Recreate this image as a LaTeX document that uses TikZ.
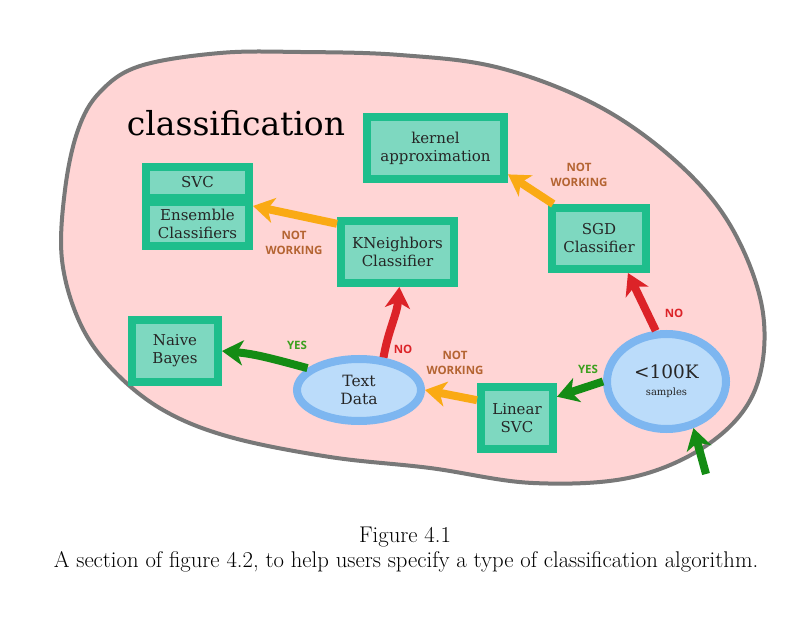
\documentclass[tikz,border=0pt]{standalone}
\usepackage{fontspec}
\usepackage{tikz}
\usetikzlibrary{shapes.geometric,arrows.meta,shadows}
\newfontfamily\boxfont{DejaVu Serif}
\newfontfamily\notefont{Open Sans}
\definecolor{blobfill}{RGB}{255,213,213}
\definecolor{blobline}{RGB}{120,120,120}
\definecolor{algoline}{RGB}{30,190,140}
\definecolor{algofill}{RGB}{126,216,192}
\definecolor{askline}{RGB}{125,182,240}
\definecolor{askfill}{RGB}{187,220,250}
\definecolor{yesgreen}{RGB}{20,140,20}
\definecolor{nored}{RGB}{220,35,40}
\definecolor{failorange}{RGB}{250,170,20}
\definecolor{notebrown}{RGB}{180,100,50}
\definecolor{notegreen}{RGB}{60,160,30}
\newcommand{\picunit}{1pt}
\newcommand{\makenote}[4]{
	\node[note, text=#2] (#1) at (#3) {#4};
}

\begin{document}
\begin{tikzpicture}[x=\picunit,y=\picunit,
	algo/.style={draw=algoline, fill=algofill, line width=8pt, inner sep=0pt,
		align=center, text=black!85, font=\boxfont\fontsize{15}{18}\selectfont,
		drop shadow={opacity=0.25, shadow xshift=1.5pt, shadow yshift=-1.5pt},
		path picture={\draw[algoline!50!black, opacity=0.18, line width=7pt]
			(path picture bounding box.south west) rectangle (path picture bounding box.north east);}},
	ask/.style={ellipse, draw=askline, fill=askfill, line width=8pt, inner sep=0pt,
		align=center, text=black!85, font=\boxfont\fontsize{15.5}{18}\selectfont,
		drop shadow={opacity=0.25, shadow xshift=1.5pt, shadow yshift=-1.5pt}},
	note/.style={align=center, inner sep=1pt, font=\notefont\bfseries\fontsize{11.5}{14.5}\selectfont},
	flow/.style={line width=8pt, -{Stealth[length=21pt,width=25pt,inset=6pt]}},
	caption/.style={inner sep=0pt, anchor=base, font=\rmfamily\fontsize{22.7}{27}\selectfont}]
	\useasboundingbox (0,0) rectangle (799,621);

	\draw[blobline, fill=blobfill, line width=4pt] plot[smooth cycle, tension=0.6] coordinates {
		(300,569) (400,566) (500,553) (600,514) (680,456) (733,391) (763,308)
		(755,231) (710,178) (633,144) (533,138) (430,153) (330,164) (230,184)
		(163,211) (113,251) (80,298) (62,361) (65,431) (78,491) (100,529)
		(140,555) (220,568)};

	\node[inner sep=0pt, font=\boxfont\fontsize{33}{40}\selectfont] (heading) at (236,498) {classification};

	\node[algo, minimum width=103pt, minimum height=44pt] (ens) at (197.5,397) {Ensemble\\Classifiers};
	\node[algo, minimum width=103pt, minimum height=31pt] (svc) at (197.5,438.5) {SVC};
	\node[algo, minimum width=137pt, minimum height=62pt] (kernel) at (435.5,473) {kernel\\approximation};
	\node[algo, minimum width=113pt, minimum height=62pt] (kn) at (397.5,369) {KNeighbors\\Classifier};
	\node[algo, minimum width=94pt, minimum height=61pt] (sgd) at (599,382.5) {SGD\\Classifier};
	\node[algo, minimum width=86pt, minimum height=62pt] (nb) at (175,270) {Naive\\Bayes};
	\node[algo, minimum width=72pt, minimum height=62pt] (lin) at (517,203) {Linear\\SVC};
	\node[ask, minimum width=124pt, minimum height=62pt] (text) at (359,231) {Text\\Data};
	\node[ask, minimum width=119pt, minimum height=95pt] (samples) at (666.5,239.5)
		{{\fontsize{18.5}{22}\selectfont <100K}\\[-1pt]{\fontsize{10}{12}\selectfont samples}};
	\coordinate (entry) at (706,147);

	\draw[flow, failorange] (kn.155) -- (ens.18);
	\draw[flow, failorange] (sgd.143) -- (kernel.340);
	\draw[flow, failorange] (lin.156) -- (text.east);
	\draw[flow, nored] (text.53) to[out=80, in=-95] (kn.-87);
	\draw[flow, nored] (samples.102) -- (sgd.-50);
	\draw[flow, yesgreen] (text.157) to[out=165, in=-5] (nb.east);
	\draw[flow, yesgreen] (samples.west) -- (lin.28);
	\draw[flow, yesgreen] (entry) -- (samples.300);

	\makenote{nw1}{notebrown}{294,378}{NOT\\WORKING}
	\makenote{nw2}{notebrown}{579,446}{NOT\\WORKING}
	\makenote{nw3}{notebrown}{455,258}{NOT\\WORKING}
	\makenote{no1}{nored}{403,272}{NO}
	\makenote{no2}{nored}{674,308}{NO}
	\makenote{yes1}{notegreen}{297,276}{YES}
	\makenote{yes2}{notegreen}{588,252}{YES}

	\node[caption] (figno) at (405,79) {Figure 4.1};
	\node[caption] (figtext) at (406,54) {A section of figure 4.2, to help users specify a type of classification algorithm.};
\end{tikzpicture}
\end{document}
